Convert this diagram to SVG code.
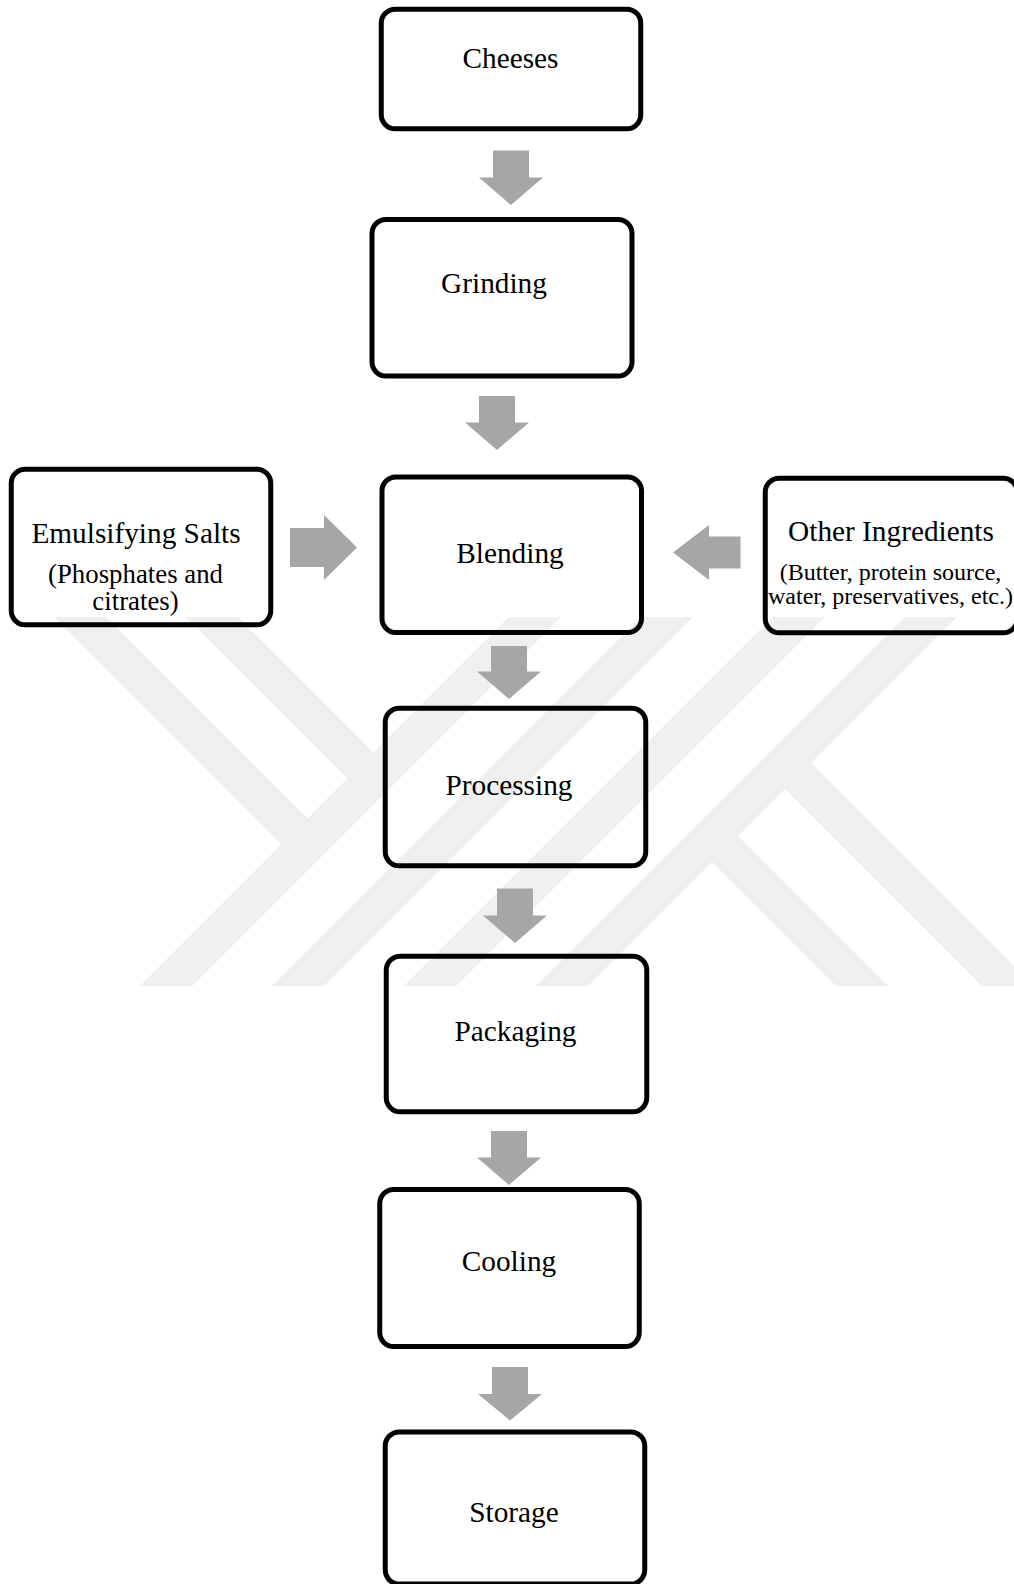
<svg xmlns="http://www.w3.org/2000/svg" width="1014" height="1584" viewBox="0 0 1014 1584">
<style>
.wm{fill:#efefef}
.box{fill:none;stroke:#000;stroke-width:5}
.arr{fill:#a6a6a6}
.t{font-family:"Liberation Serif","Times New Roman",serif;font-size:29.3px;fill:#000;text-anchor:middle}
.s1{font-family:"Liberation Serif","Times New Roman",serif;font-size:26.8px;fill:#000;text-anchor:middle}
.s2{font-family:"Liberation Serif","Times New Roman",serif;font-size:24px;fill:#000;text-anchor:middle}
</style>
<rect width="1014" height="1584" fill="#fff"/>
<g id="watermark">
<polygon class="wm" points="509,617 561,617 192,986 140,986"/>
<polygon class="wm" points="641,617 693,617 324,986 272,986"/>
<polygon class="wm" points="773,617 825,617 456,986 404,986"/>
<polygon class="wm" points="905,617 957,617 588,986 536,986"/>
<polygon class="wm" points="54,617 106,617 320,831 294,857"/>
<polygon class="wm" points="186,617 238,617 386,765 360,791"/>
<polygon class="wm" points="725,823 888,986 836,986 699,849"/>
<polygon class="wm" points="798,750 1034,986 982,986 772,776"/>
</g>
<g id="connectors">
<polygon class="arr" points="493,150.5 529,150.5 529,177.5 543,177.5 511,205 479,177.5 493,177.5"/>
<polygon class="arr" points="479,396 515,396 515,422.5 529,422.5 497,450 465,422.5 479,422.5"/>
<polygon class="arr" points="491,646 527,646 527,671.5 541,671.5 509,699 477,671.5 491,671.5"/>
<polygon class="arr" points="497,888.5 533,888.5 533,915.5 547,915.5 515,943 483,915.5 497,915.5"/>
<polygon class="arr" points="491,1131 527,1131 527,1157.5 541,1157.5 509,1185 477,1157.5 491,1157.5"/>
<polygon class="arr" points="492,1367 528,1367 528,1394 542,1394 510,1420.5 478,1394 492,1394"/>
<polygon class="arr" points="290,528 324,528 324,515 357,547.5 324,580 324,567 290,567"/>
<polygon class="arr" points="740.5,536.5 709,536.5 709,525 673,552.5 709,580 709,568.5 740.5,568.5"/>
</g>
<g id="cheeses">
<rect class="box" x="381.25" y="9.25" width="259.5" height="119.5" rx="14"/>
<text class="t" x="510.5" y="68">Cheeses</text>
</g>
<g id="grinding">
<rect class="box" x="372" y="219.5" width="260" height="156.5" rx="14"/>
<text class="t" x="494" y="293">Grinding</text>
</g>
<g id="emulsifying-salts">
<text class="t" x="136" y="543">Emulsifying Salts</text>
<text class="s1" x="135.5" y="583">(Phosphates and</text>
<text class="s1" x="135.5" y="610">citrates)</text>
<rect class="box" x="11.25" y="469.25" width="259.5" height="155.5" rx="14"/>
</g>
<g id="blending">
<rect class="box" x="382" y="477" width="259.5" height="155.5" rx="14"/>
<text class="t" x="510" y="563">Blending</text>
</g>
<g id="other-ingredients">
<text class="t" x="891" y="541">Other Ingredients</text>
<text class="s2" x="890.5" y="580">(Butter, protein source,</text>
<text class="s2" x="890.5" y="604">water, preservatives, etc.)</text>
<rect class="box" x="765.25" y="478.25" width="252" height="154.5" rx="14"/>
</g>
<g id="processing">
<rect class="box" x="385.25" y="708.25" width="260.5" height="157.5" rx="14"/>
<text class="t" x="509" y="795">Processing</text>
</g>
<g id="packaging">
<rect class="box" x="386.25" y="956.25" width="260.5" height="155.5" rx="14"/>
<text class="t" x="515.5" y="1041">Packaging</text>
</g>
<g id="cooling">
<rect class="box" x="379.75" y="1189.5" width="259.5" height="157" rx="14"/>
<text class="t" x="509" y="1271">Cooling</text>
</g>
<g id="storage">
<rect class="box" x="385.25" y="1432" width="259.5" height="152" rx="14"/>
<text class="t" x="514" y="1522">Storage</text>
</g>
</svg>
